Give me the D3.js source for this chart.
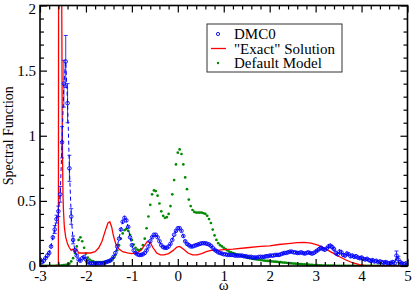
<!DOCTYPE html>
<html lang="en">
    <head>
        <meta charset="utf-8">
        <title>spectral function</title>
        <script src="https://d3js.org/d3.v7.min.js"></script>
        <style type="text/css">
            body { margin: 0; background: #fff; }
            svg text { font-family: "Liberation Serif", "Times New Roman", Times, "DejaVu Serif", serif; }
        </style>
    </head>
    <body>
        <script type="text/javascript">
            // sample grid shared by DMC0 and default model (omega = -3 .. 5)
            var gridStart = -3, gridStep = 0.04, gridCount = 201;

            // DMC0 values, one per grid point, rows of 10
            var dmcValue = [
                0.05, 0.03, 0.04, 0.06, 0.08, 0.10, 0.15, 0.22, 0.28, 0.36,
                0.42, 0.55, 0.95, 1.40, 1.57, 1.25, 0.75, 0.38, 0.20, 0.12,
                0.08, 0.05, 0.04, 0.06, 0.07, 0.05, 0.03, 0.02, 0.02, 0.02,
                0.02, 0.02, 0.02, 0.02, 0.02, 0.025, 0.03, 0.035, 0.04, 0.05,
                0.07, 0.10, 0.15, 0.21, 0.28, 0.34, 0.37, 0.35, 0.30, 0.22,
                0.16, 0.12, 0.10, 0.09, 0.085, 0.085, 0.09, 0.10, 0.12, 0.15,
                0.19, 0.22, 0.24, 0.24, 0.22, 0.19, 0.16, 0.145, 0.14, 0.14,
                0.15, 0.17, 0.20, 0.24, 0.27, 0.29, 0.29, 0.27, 0.23, 0.19,
                0.17, 0.16, 0.15, 0.15, 0.155, 0.16, 0.165, 0.17, 0.175, 0.175,
                0.175, 0.17, 0.165, 0.155, 0.14, 0.125, 0.115, 0.105, 0.10, 0.095,
                0.09, 0.09, 0.085, 0.085, 0.085, 0.085, 0.08, 0.08, 0.08, 0.08,
                0.08, 0.075, 0.075, 0.07, 0.07, 0.07, 0.065, 0.065, 0.065, 0.07,
                0.07, 0.07, 0.07, 0.075, 0.075, 0.08, 0.08, 0.08, 0.085, 0.085,
                0.085, 0.09, 0.095, 0.10, 0.10, 0.105, 0.11, 0.11, 0.105, 0.105,
                0.10, 0.10, 0.105, 0.10, 0.095, 0.10, 0.105, 0.10, 0.095, 0.10,
                0.11, 0.12, 0.13, 0.14, 0.13, 0.125, 0.135, 0.15, 0.155, 0.145,
                0.13, 0.10, 0.09, 0.11, 0.105, 0.085, 0.08, 0.095, 0.09, 0.075,
                0.08, 0.07, 0.075, 0.065, 0.06, 0.065, 0.055, 0.05, 0.055, 0.045,
                0.04, 0.045, 0.035, 0.04, 0.03, 0.035, 0.03, 0.025, 0.03, 0.025,
                0.02, 0.025, 0.03, 0.02, 0.08, 0.05, 0.03, 0.02, 0.015, 0.02,
                0.01
            ];

            // DMC0 error bars
            var dmcErr = [
                0.02, 0.02, 0.02, 0.02, 0.02, 0.02, 0.02, 0.02, 0.03, 0.03,
                0.04, 0.06, 0.12, 0.18, 0.20, 0.15, 0.10, 0.06, 0.03, 0.02,
                0.01, 0.01, 0.01, 0.01, 0.01, 0.01, 0.01, 0.01, 0.01, 0.01,
                0.01, 0.01, 0.01, 0.01, 0.01, 0.01, 0.01, 0.01, 0.01, 0.01,
                0.01, 0.01, 0.01, 0.01, 0.01, 0.015, 0.015, 0.015, 0.01, 0.01,
                0.01, 0.01, 0.01, 0.01, 0.01, 0.01, 0.01, 0.01, 0.01, 0.01,
                0.01, 0.01, 0.01, 0.01, 0.01, 0.01, 0.01, 0.01, 0.01, 0.01,
                0.01, 0.01, 0.01, 0.01, 0.01, 0.01, 0.01, 0.01, 0.01, 0.01,
                0.01, 0.01, 0.01, 0.01, 0.01, 0.01, 0.01, 0.01, 0.01, 0.01,
                0.01, 0.01, 0.01, 0.01, 0.01, 0.01, 0.01, 0.01, 0.01, 0.01,
                0.01, 0.01, 0.01, 0.01, 0.01, 0.01, 0.01, 0.01, 0.01, 0.01,
                0.01, 0.01, 0.01, 0.01, 0.01, 0.01, 0.01, 0.01, 0.01, 0.01,
                0.01, 0.01, 0.01, 0.01, 0.01, 0.01, 0.01, 0.01, 0.01, 0.01,
                0.01, 0.01, 0.01, 0.01, 0.01, 0.01, 0.01, 0.01, 0.01, 0.01,
                0.01, 0.01, 0.01, 0.01, 0.01, 0.01, 0.01, 0.01, 0.01, 0.01,
                0.015, 0.015, 0.015, 0.015, 0.015, 0.015, 0.015, 0.02, 0.02, 0.02,
                0.02, 0.02, 0.015, 0.02, 0.02, 0.015, 0.015, 0.02, 0.015, 0.015,
                0.015, 0.015, 0.015, 0.015, 0.015, 0.015, 0.015, 0.015, 0.015, 0.015,
                0.015, 0.015, 0.015, 0.015, 0.015, 0.015, 0.015, 0.015, 0.015, 0.015,
                0.015, 0.015, 0.015, 0.015, 0.035, 0.025, 0.015, 0.015, 0.015, 0.015,
                0.015
            ];

            // default model values, one per grid point
            var modelValue = [
                0.002, 0.002, 0.002, 0.002, 0.002, 0.002, 0.002, 0.002, 0.002, 0.003,
                0.003, 0.004, 0.005, 0.006, 0.008, 0.01, 0.018, 0.035, 0.06, 0.10,
                0.15, 0.20, 0.22, 0.19, 0.14, 0.095, 0.065, 0.05, 0.04, 0.035,
                0.03, 0.03, 0.03, 0.03, 0.03, 0.03, 0.032, 0.035, 0.04, 0.05,
                0.065, 0.085, 0.12, 0.16, 0.21, 0.25, 0.275, 0.285, 0.27, 0.24,
                0.20, 0.165, 0.14, 0.125, 0.12, 0.13, 0.16, 0.21, 0.29, 0.38,
                0.47, 0.55, 0.58, 0.575, 0.54, 0.48, 0.42, 0.385, 0.37, 0.375,
                0.40, 0.46, 0.55, 0.66, 0.78, 0.87, 0.895, 0.86, 0.78, 0.68,
                0.59, 0.51, 0.46, 0.43, 0.415, 0.41, 0.41, 0.41, 0.41, 0.405,
                0.40, 0.385, 0.36, 0.33, 0.28, 0.235, 0.20, 0.175, 0.16, 0.15,
                0.14, 0.13, 0.12, 0.11, 0.105, 0.10, 0.095, 0.09, 0.085, 0.08,
                0.076, 0.072, 0.068, 0.064, 0.06, 0.057, 0.054, 0.052, 0.05, 0.048,
                0.046, 0.044, 0.042, 0.04, 0.039, 0.037, 0.036, 0.034, 0.033, 0.032,
                0.03, 0.029, 0.027, 0.026, 0.025, 0.023, 0.022, 0.02, 0.019, 0.018,
                0.016, 0.015, 0.014, 0.013, 0.012, 0.011, 0.01, 0.009, 0.008, 0.007,
                0.006, 0.006, 0.005, 0.005, 0.004, 0.004, 0.004, 0.003, 0.003, 0.003,
                0.003, 0.002, 0.002, 0.002, 0.002, 0.002, 0.002, 0.002, 0.002, 0.002,
                0.002, 0.002, 0.002, 0.002, 0.002, 0.001, 0.001, 0.001, 0.001, 0.001,
                0.001, 0.001, 0.001, 0.001, 0.001, 0.001, 0.001, 0.001, 0.001, 0.001,
                0.001, 0.001, 0.001, 0.001, 0.001, 0.001, 0.001, 0.001, 0.001, 0.001,
                0.001
            ];

            // "exact" solution, read point by point
            var exactOmega = [-3, -2.62, -2.6, -2.595, -2.53, -2.515, -2.5, -2.49, -2.47, -2.44,
                -2.4, -2.36, -2.32, -2.28, -2.24, -2.2, -2.16, -2.1, -2.0, -1.9,
                -1.8, -1.72, -1.65, -1.58, -1.52, -1.48, -1.44, -1.4, -1.35, -1.28,
                -1.2, -1.1, -1.0, -0.9, -0.8, -0.72, -0.66, -0.6, -0.54, -0.46,
                -0.38, -0.3, -0.2, -0.1, -0.02, 0.04, 0.12, 0.22, 0.32, 0.42,
                0.52, 0.62, 0.72, 0.85, 1.0, 1.2, 1.5, 1.8, 2.0, 2.2,
                2.4, 2.6, 2.75, 2.9, 3.05, 3.2, 3.35, 3.5, 3.65, 3.8,
                3.95, 4.1, 4.3, 5.0];
            var exactValue = [0, 0, 0, 2.3, 2.3, 1.0, 0.55, 0.43, 0.3, 0.22,
                0.17, 0.14, 0.12, 0.13, 0.11, 0.13, 0.1, 0.1, 0.1, 0.1,
                0.11, 0.14, 0.19, 0.27, 0.33, 0.34, 0.3, 0.23, 0.17, 0.13,
                0.11, 0.1, 0.095, 0.1, 0.12, 0.16, 0.19, 0.18, 0.14, 0.1,
                0.085, 0.085, 0.095, 0.12, 0.145, 0.15, 0.13, 0.1, 0.085, 0.085,
                0.095, 0.11, 0.12, 0.12, 0.125, 0.13, 0.14, 0.15, 0.155, 0.165,
                0.172, 0.18, 0.182, 0.175, 0.16, 0.135, 0.105, 0.075, 0.048, 0.025,
                0.01, 0.003, 0, 0];

            var xTicks = [-3, -2, -1, 0, 1, 2, 3, 4, 5];
            var yTicks = [0, 0.5, 1, 1.5, 2];
            var legendLabels = ["DMC0", "\"Exact\" Solution", "Default Model"];

            // layout
            var W = 415, H = 293;
            var plot = {left: 40, right: 407.5, top: 5.5, bottom: 266};
            var serif = "'Liberation Serif', 'Times New Roman', Times, 'DejaVu Serif', serif";

            var x = d3.scaleLinear().domain([-3, 5]).range([plot.left, plot.right]);
            var y = d3.scaleLinear().domain([0, 2]).range([plot.bottom, plot.top]);

            var omegaGrid = d3.range(gridCount).map(function(i) { return gridStart + gridStep * i; });
            var dmc = omegaGrid.map(function(w, i) { return {w: w, v: dmcValue[i], e: dmcErr[i]}; });
            var model = omegaGrid.map(function(w, i) { return {w: w, v: modelValue[i]}; });
            var exact = exactOmega.map(function(w, i) { return {w: w, v: exactValue[i]}; });

            var svg = d3.select("body").append("svg")
                .attr("width", W)
                .attr("height", H)
                .attr("font-family", serif);

            svg.append("clipPath").attr("id", "clip")
                .append("rect")
                .attr("x", plot.left).attr("y", plot.top)
                .attr("width", plot.right - plot.left)
                .attr("height", plot.bottom - plot.top);

            var g = svg.append("g").attr("clip-path", "url(#clip)");

            var blue = "#0000ff", red = "#ff0000", green = "#008a00";

            // default model dots
            g.selectAll(".mdot")
                .data(model)
                .enter().append("circle")
                .attr("class", "mdot")
                .attr("cx", function(d) { return x(d.w); })
                .attr("cy", function(d) { return y(d.v); })
                .attr("r", 1.35)
                .style("fill", green);

            // exact solution
            var line = d3.line()
                .x(function(d) { return x(d.w); })
                .y(function(d) { return y(d.v); });

            g.append("path")
                .datum(exact)
                .attr("d", line)
                .style("fill", "none")
                .style("stroke", red)
                .attr("stroke-width", 1.3);

            // DMC0: dashed line, error bars, open circles
            g.append("path")
                .datum(dmc)
                .attr("d", line)
                .style("fill", "none")
                .style("stroke", blue)
                .attr("stroke-width", 1)
                .attr("stroke-dasharray", "4,3");

            g.selectAll(".ebar")
                .data(dmc)
                .enter().append("line")
                .attr("class", "ebar")
                .attr("x1", function(d) { return x(d.w); })
                .attr("x2", function(d) { return x(d.w); })
                .attr("y1", function(d) { return y(d.v - d.e); })
                .attr("y2", function(d) { return y(d.v + d.e); })
                .style("stroke", blue)
                .attr("stroke-width", 0.8);

            var capped = dmc.filter(function(d) { return d.e >= 0.025; });
            [1, -1].forEach(function(s) {
                g.selectAll(".cap" + (s > 0 ? "t" : "b"))
                    .data(capped)
                    .enter().append("line")
                    .attr("x1", function(d) { return x(d.w) - 2; })
                    .attr("x2", function(d) { return x(d.w) + 2; })
                    .attr("y1", function(d) { return y(d.v + s * d.e); })
                    .attr("y2", function(d) { return y(d.v + s * d.e); })
                    .style("stroke", blue)
                    .attr("stroke-width", 0.8);
            });

            g.selectAll(".dot")
                .data(dmc)
                .enter().append("circle")
                .attr("class", "dot")
                .attr("cx", function(d) { return x(d.w); })
                .attr("cy", function(d) { return y(d.v); })
                .attr("r", 1.8)
                .style("fill", "none")
                .style("stroke", blue)
                .attr("stroke-width", 0.9);

            // axes, ticks inward on all four sides
            var fmt = function(d) { return String(d); };
            var xMinor = d3.range(-3, 5.001, 0.2).filter(function(v) { return Math.abs(v - Math.round(v)) > 1e-6; });
            var yMinor = d3.range(0, 2.001, 0.1).filter(function(v) { return Math.abs(v * 2 - Math.round(v * 2)) > 1e-6; });

            function addAxis(axis, tx, ty) {
                var a = svg.append("g")
                    .attr("transform", "translate(" + tx + "," + ty + ")")
                    .call(axis)
                    .attr("font-family", serif)
                    .attr("font-size", 15);
                a.select(".domain").remove();
                a.selectAll("line").style("stroke", "#000").attr("stroke-width", 1.2);
                a.selectAll("text").style("fill", "#000");
                return a;
            }

            addAxis(d3.axisBottom(x).tickValues(xTicks).tickFormat(fmt).tickSizeInner(-7).tickSizeOuter(0).tickPadding(4), 0, plot.bottom);
            addAxis(d3.axisBottom(x).tickValues(xMinor).tickFormat("").tickSizeInner(-4).tickSizeOuter(0), 0, plot.bottom);
            addAxis(d3.axisTop(x).tickValues(xTicks).tickFormat("").tickSizeInner(-7).tickSizeOuter(0), 0, plot.top);
            addAxis(d3.axisTop(x).tickValues(xMinor).tickFormat("").tickSizeInner(-4).tickSizeOuter(0), 0, plot.top);
            var left = addAxis(d3.axisLeft(y).tickValues(yTicks).tickFormat(fmt).tickSizeInner(-7).tickSizeOuter(0).tickPadding(4), plot.left, 0);
            addAxis(d3.axisLeft(y).tickValues(yMinor).tickFormat("").tickSizeInner(-4).tickSizeOuter(0), plot.left, 0);
            addAxis(d3.axisRight(y).tickValues(yTicks).tickFormat("").tickSizeInner(-7).tickSizeOuter(0), plot.right, 0);
            addAxis(d3.axisRight(y).tickValues(yMinor).tickFormat("").tickSizeInner(-4).tickSizeOuter(0), plot.right, 0);

            // keep the top label "2" inside the window
            left.selectAll(".tick text").attr("dy", function(d) { return d === 2 ? "0.5em" : "0.32em"; });

            // frame
            svg.append("rect")
                .attr("x", plot.left).attr("y", plot.top)
                .attr("width", plot.right - plot.left)
                .attr("height", plot.bottom - plot.top)
                .style("fill", "none")
                .style("stroke", "#000")
                .attr("stroke-width", 1.6);

            // axis titles
            svg.append("text")
                .attr("x", (plot.left + plot.right) / 2)
                .attr("y", 290)
                .style("text-anchor", "middle")
                .style("font-size", "15px")
                .text("ω");

            svg.append("text")
                .attr("transform", "translate(13," + (plot.top + plot.bottom) / 2 + ") rotate(-90)")
                .style("text-anchor", "middle")
                .style("font-size", "14px")
                .text("Spectral Function");

            // legend
            var lg = svg.append("g").attr("transform", "translate(207,24)");
            lg.append("rect")
                .attr("width", 135).attr("height", 48)
                .style("fill", "#fff")
                .style("stroke", "#333")
                .attr("stroke-width", 1);

            var rowY = [10, 24.5, 39];
            lg.append("circle").attr("cx", 11).attr("cy", rowY[0]).attr("r", 1.6)
                .style("fill", "none").style("stroke", blue).attr("stroke-width", 0.9);
            lg.append("line").attr("x1", 4).attr("x2", 19).attr("y1", rowY[1]).attr("y2", rowY[1])
                .style("stroke", red).attr("stroke-width", 1.3);
            lg.append("circle").attr("cx", 11).attr("cy", rowY[2]).attr("r", 1.2)
                .style("fill", green);

            lg.selectAll(".ltext")
                .data(legendLabels)
                .enter().append("text")
                .attr("class", "ltext")
                .attr("x", 27)
                .attr("y", function(d, i) { return rowY[i] + 5; })
                .style("font-size", "15px")
                .text(function(d) { return d; });
        </script>
    </body>
</html>
